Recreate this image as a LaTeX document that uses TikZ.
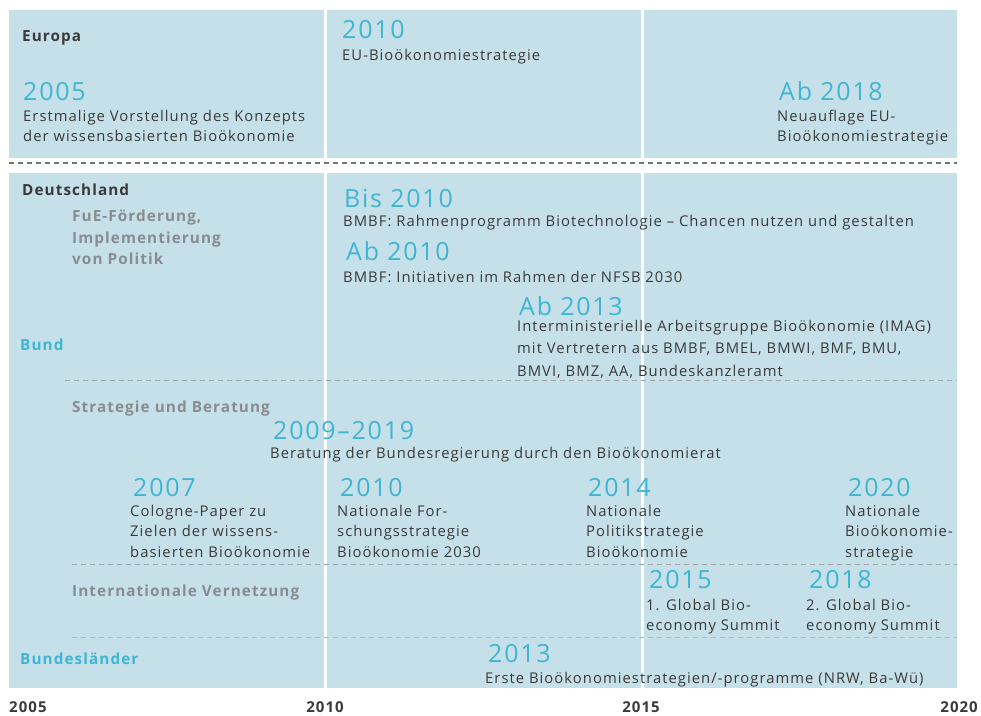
\documentclass[tikz,border=0pt]{standalone}
\usepackage{fontspec}
\setmainfont{Open Sans}[LetterSpace=7]
\definecolor{panel}{HTML}{C6E0EA}
\definecolor{bioblue}{HTML}{3FB5D4}
\definecolor{darktext}{HTML}{3A3A3A}
\definecolor{headgray}{HTML}{878C90}
\begin{document}
\begin{tikzpicture}[x=1pt, y=-1pt,
    desc/.style={anchor=north west, inner sep=0pt, align=left, text=darktext, font=\fontsize{14.8}{20.3}\selectfont},
    year/.style={anchor=base west, inner sep=0pt, text=bioblue, font=\fontsize{25}{25}\selectfont},
    head/.style={anchor=base west, inner sep=0pt, text=darktext, font=\bfseries\fontsize{15.3}{20}\selectfont},
    sub/.style={anchor=base west, inner sep=0pt, align=left, text=headgray, font=\bfseries\fontsize{15.3}{21.5}\selectfont},
    lvl/.style={anchor=base west, inner sep=0pt, text=bioblue, font=\bfseries\fontsize{15.3}{20}\selectfont},
    tick/.style={anchor=base, inner sep=0pt, text=darktext, font=\bfseries\fontsize{15}{15}\selectfont},
    sep/.style={dash pattern=on 5pt off 4pt, line width=1pt}]
\useasboundingbox (0,0) rectangle (981,715);
% panels
\fill[panel] (9,10) rectangle (957,158);
\fill[panel] (9,173) rectangle (957,688);
\foreach \x in {325,642}{
  \draw[white, line width=3pt] (\x,10)--(\x,158);
  \draw[white, line width=3pt] (\x,173)--(\x,688);
}
\draw[sep, darktext!70, line width=1.5pt] (9,163)--(957,163);
\draw[sep, headgray!80] (65,380)--(957,380);
\draw[sep, headgray!80] (72,564)--(957,564);
\draw[sep, bioblue!70] (72,637)--(957,637);

% Europa
\node[head] (europa) at (22,41) {Europa};
\node[year] (eu05) at (23,100) {2005};
\node[desc] (eu05t) at (23,110) {Erstmalige Vorstellung des Konzepts\\der wissensbasierten Bioökonomie};
\node[year] (eu10) at (342,38) {2010};
\node[desc] (eu10t) at (342,49) {EU-Bioökonomiestrategie};
\node[year] (eu18) at (779,100) {Ab 2018};
\node[desc] (eu18t) at (777,110) {Neuauflage EU-\\Bioökonomiestrategie};

% Deutschland
\node[head] (deutschland) at (22,195) {Deutschland};
\node[sub, anchor=north west] (fue) at (72,210) {FuE-Förderung,\\Implementierung\\von Politik};
\node[lvl] (bund) at (20,350) {Bund};
\node[year] (bis10) at (344,207) {Bis 2010};
\node[desc] (bis10t) at (343,215) {BMBF: Rahmenprogramm Biotechnologie -- Chancen nutzen und gestalten};
\node[year] (ab10) at (346,260) {Ab 2010};
\node[desc] (ab10t) at (343,271) {BMBF: Initiativen im Rahmen der NFSB 2030};
\node[year] (ab13) at (519,315) {Ab 2013};
\node[desc] (ab13t) at (517,320) {Interministerielle Arbeitsgruppe Bioökonomie (IMAG)\\[2pt]mit Vertretern aus BMBF, BMEL, BMWI, BMF, BMU,\\[2pt]BMVI, BMZ, AA, Bundeskanzleramt};

\node[sub] (strat) at (72,412) {Strategie und Beratung};
\node[year] (r0919) at (273,439) {2009--2019};
\node[desc] (r0919t) at (270,447) {Beratung der Bundesregierung durch den Bioökonomierat};
\node[year] (s07) at (133,496) {2007};
\node[desc] (s07t) at (130,505) {Cologne-Paper zu\\Zielen der wissens-\\basierten Bioökonomie};
\node[year] (s10) at (340,496) {2010};
\node[desc] (s10t) at (337,505) {Nationale For-\\schungsstrategie\\Bioökonomie 2030};
\node[year] (s14) at (588,496) {2014};
\node[desc] (s14t) at (586,505) {Nationale\\Politikstrategie\\Bioökonomie};
\node[year] (s20) at (848,496) {2020};
\node[desc] (s20t) at (845,505) {Nationale\\Bioökonomie-\\strategie};

\node[sub] (intl) at (72,596) {Internationale Vernetzung};
\node[year] (g15) at (649,588) {2015};
\node[desc] (g15t) at (646,599) {1. Global Bio-\\economy Summit};
\node[year] (g18) at (809,588) {2018};
\node[desc] (g18t) at (806,599) {2. Global Bio-\\economy Summit};

\node[lvl] (laender) at (20,664) {Bundesländer};
\node[year] (l13) at (488,662) {2013};
\node[desc] (l13t) at (485,672) {Erste Bioökonomiestrategien/-programme (NRW, Ba-Wü)};

% Zeitachse
\node[tick, anchor=base west] (t05) at (9,712) {2005};
\node[tick] (t10) at (325,712) {2010};
\node[tick] (t15) at (641,712) {2015};
\node[tick, anchor=base east] (t20) at (978,712) {2020};
\end{tikzpicture}
\end{document}
